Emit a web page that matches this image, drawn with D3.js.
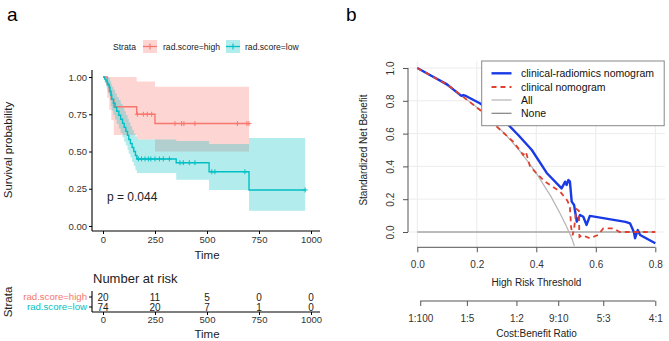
<!DOCTYPE html>
<html><head><meta charset="utf-8">
<script src="https://cdnjs.cloudflare.com/ajax/libs/d3/7.8.5/d3.min.js"></script>
<style>body{margin:0;background:#fff}svg{display:block;font-family:"Liberation Sans",Arial,sans-serif}</style>
</head><body><svg id="c" width="669" height="341"></svg>
<script>
// ---------- Panel a: Kaplan-Meier ----------
const strataNames = ["rad.score=high", "rad.score=low"];
const kmHighT = [0, 20, 30, 40, 52, 162, 250];
const kmHighS = [1, 0.95, 0.90, 0.85, 0.80, 0.75, 0.6875];
const kmHighU = [1, 1, 1, 1, 1, 0.97, 0.935];
const kmHighL = [1, 0.86, 0.78, 0.71, 0.61, 0.58, 0.50];
const kmHighEnd = 702;
const kmHighCensor = [165, 194, 213, 234, 346, 378, 389, 442, 646, 692, 702];

const kmLowT = [0, 8, 14, 20, 25, 30, 34, 38, 42, 50, 58, 66, 76, 85, 94, 102, 110, 118, 124, 132, 140, 148, 156, 163, 352, 510, 702];
const kmLowS = [1, 0.986, 0.973, 0.959, 0.946, 0.932, 0.905, 0.878, 0.851, 0.824, 0.797, 0.770, 0.743, 0.716, 0.689, 0.662, 0.635, 0.608, 0.581, 0.554, 0.527, 0.500, 0.473, 0.450, 0.425, 0.364, 0.242];
const kmLowU = [1, 1, 1, 1, 1, 0.99, 0.975, 0.955, 0.935, 0.915, 0.89, 0.865, 0.845, 0.82, 0.795, 0.77, 0.745, 0.72, 0.695, 0.67, 0.645, 0.62, 0.60, 0.58, 0.57, 0.55, 0.59];
const kmLowL = [1, 0.96, 0.935, 0.915, 0.895, 0.875, 0.84, 0.805, 0.775, 0.745, 0.715, 0.685, 0.655, 0.625, 0.595, 0.565, 0.54, 0.51, 0.485, 0.46, 0.43, 0.405, 0.375, 0.355, 0.31, 0.242, 0.103];
const kmLowEnd = 972;
const kmLowCensor = [170, 185, 202, 218, 230, 250, 271, 290, 319, 370, 386, 415, 442, 523, 538, 682, 972];

const kmTicksX = [0, 250, 500, 750, 1000];
const kmTicksY = [0, 0.25, 0.5, 0.75, 1];
const riskHigh = [20, 11, 5, 0, 0];
const riskLow = [74, 20, 7, 1, 0];
const pText = "p = 0.044";

// ---------- Panel b: decision curves ----------
const dcaNames = ["clinical-radiomics nomogram", "clinical nomogram", "All", "None"];
const blueT = [0, 0.05, 0.10, 0.148, 0.155, 0.165, 0.21, 0.26, 0.30, 0.34, 0.385, 0.435, 0.485, 0.497, 0.502, 0.508, 0.513, 0.519, 0.527, 0.536, 0.547, 0.558, 0.569, 0.58, 0.70, 0.715, 0.728, 0.732, 0.741, 0.749, 0.80];
const blueNB = [1.0, 0.95, 0.90, 0.83, 0.835, 0.828, 0.785, 0.725, 0.665, 0.59, 0.50, 0.36, 0.266, 0.307, 0.287, 0.317, 0.307, 0.185, 0.165, 0.063, 0.104, 0.093, 0.043, 0.098, 0.062, 0.053, 0.0, -0.038, 0.012, -0.018, -0.069];
const redT = [0, 0.10, 0.15, 0.211, 0.267, 0.323, 0.356, 0.365, 0.379, 0.429, 0.48, 0.505, 0.513, 0.517, 0.522, 0.527, 0.535, 0.543, 0.545, 0.555, 0.58, 0.608, 0.625, 0.659, 0.68, 0.80];
const redNB = [1.0, 0.90, 0.83, 0.744, 0.642, 0.55, 0.47, 0.49, 0.398, 0.307, 0.246, 0.19, 0.15, 0.03, -0.02, 0.02, 0.14, 0.13, -0.03, -0.02, -0.038, -0.018, 0.022, 0.022, 0.0, 0.0];
const allT = [0, 0.05, 0.1, 0.15, 0.2, 0.25, 0.3, 0.35, 0.4, 0.45, 0.48, 0.5, 0.51, 0.52, 0.528];
const allNB = [1, 0.949, 0.893, 0.830, 0.760, 0.680, 0.588, 0.483, 0.359, 0.214, 0.113, 0.039, 0, -0.041, -0.085];
const noneT = [0, 0.8];
const noneNB = [0, 0];
const dcaTicksX = [0, 0.2, 0.4, 0.6, 0.8];
const dcaTicksY = [0, 0.2, 0.4, 0.6, 0.8, 1.0];
const cbLabels = ["1:100", "1:5", "1:2", "9:10", "5:3", "4:1"];
const cbThresh = [1/101, 1/6, 1/3, 9/19, 5/8, 4/5];

const svg = d3.select("#c");
const RED = "#F8766D", TEAL = "#00BFC4";

// ===== Panel a =====
const x = d3.scaleLinear().domain([0, 1000]).range([103, 311]);
const y = d3.scaleLinear().domain([0, 1]).range([226, 77]);
svg.append("text").attr("x", 7).attr("y", 21).attr("font-size", 19).text("a");

// legend
const lg = svg.append("g").attr("font-size", 8.6).attr("fill", "#222");
lg.append("text").attr("x", 113).attr("y", 50).text("Strata");
[[143, RED, strataNames[0], 163], [226, TEAL, strataNames[1], 245]].forEach(([kx, c, t, tx]) => {
  lg.append("rect").attr("x", kx).attr("y", 40).attr("width", 14).attr("height", 13).attr("fill", c).attr("fill-opacity", 0.3);
  lg.append("line").attr("x1", kx).attr("x2", kx + 14).attr("y1", 46.5).attr("y2", 46.5).attr("stroke", c).attr("stroke-width", 1.3);
  lg.append("line").attr("x1", kx + 7).attr("x2", kx + 7).attr("y1", 43.5).attr("y2", 49.5).attr("stroke", c).attr("stroke-width", 1.1);
  lg.append("text").attr("x", tx).attr("y", 50).text(t);
});

function stepData(T, V, end) { const d = T.map((t, i) => [t, V[i]]); d.push([end, V[V.length - 1]]); return d; }
function bandData(T, U, L, end) { const d = T.map((t, i) => [t, U[i], L[i]]); d.push([end, U[U.length - 1], L[L.length - 1]]); return d; }
const area = d3.area().x(d => x(d[0])).y0(d => y(d[2])).y1(d => y(d[1])).curve(d3.curveStepAfter);
const line = d3.line().x(d => x(d[0])).y(d => y(d[1])).curve(d3.curveStepAfter);

const groups = [
  {T: kmHighT, S: kmHighS, U: kmHighU, L: kmHighL, end: kmHighEnd, cens: kmHighCensor, c: RED},
  {T: kmLowT, S: kmLowS, U: kmLowU, L: kmLowL, end: kmLowEnd, cens: kmLowCensor, c: TEAL}
];
groups.forEach(g => {
  svg.append("path").attr("d", area(bandData(g.T, g.U, g.L, g.end))).attr("fill", g.c).attr("fill-opacity", 0.3);
});
groups.forEach(g => {
  svg.append("path").attr("d", line(stepData(g.T, g.S, g.end))).attr("fill", "none").attr("stroke", g.c).attr("stroke-width", 1.4);
  g.cens.forEach(t => {
    const i = d3.bisectRight(g.T, t) - 1;
    const cx = x(t), cy = y(g.S[i]);
    svg.append("path").attr("d", `M${cx - 2.5},${cy}H${cx + 2.5}M${cx},${cy - 2.5}V${cy + 2.5}`).attr("stroke", g.c).attr("stroke-width", 1);
  });
});

const plain = d => String(d);
// axes
const axL = svg.append("g").attr("transform", "translate(92,0)").call(d3.axisLeft(y).tickValues(kmTicksY).tickFormat(d3.format(".2f")).tickSize(3).tickPadding(2));
axL.select(".domain").remove();
axL.append("line").attr("x1", 0).attr("x2", 0).attr("y1", 70).attr("y2", 231).attr("stroke", "#000").attr("stroke-width", 1.1);
axL.selectAll("text").attr("font-size", 9.5).attr("fill", "#333").attr("font-family", "Liberation Sans, Arial");
const axB = svg.append("g").attr("transform", "translate(0,231)").call(d3.axisBottom(x).tickValues(kmTicksX).tickFormat(plain).tickSize(3).tickPadding(2));
axB.select(".domain").remove();
axB.append("line").attr("x1", 92).attr("x2", 320).attr("stroke", "#000").attr("stroke-width", 1.1);
axB.selectAll("text").attr("font-size", 9.5).attr("fill", "#333").attr("font-family", "Liberation Sans, Arial");
svg.append("text").attr("x", 207).attr("y", 259).attr("text-anchor", "middle").attr("font-size", 11.5).attr("fill", "#222").text("Time");
svg.append("text").attr("transform", "translate(12,150) rotate(-90)").attr("text-anchor", "middle").attr("font-size", 11.5).attr("fill", "#222").text("Survival probability");
svg.append("text").attr("x", 107).attr("y", 201).attr("font-size", 12).attr("fill", "#222").text(pText);

// risk table
svg.append("text").attr("x", 93).attr("y", 283).attr("font-size", 13).attr("fill", "#222").text("Number at risk");
const ry = [297, 307];
[riskHigh, riskLow].forEach((row, r) => {
  row.forEach((v, i) => svg.append("text").attr("x", x(kmTicksX[i])).attr("y", ry[r]).attr("dy", "0.35em").attr("text-anchor", "middle").attr("font-size", 10).attr("fill", "#222").text(v));
  svg.append("text").attr("x", 87).attr("y", ry[r]).attr("dy", "0.35em").attr("text-anchor", "end").attr("font-size", 9.6).attr("fill", r === 0 ? RED : TEAL).text(strataNames[r]);
  svg.append("line").attr("x1", 89).attr("x2", 92).attr("y1", ry[r]).attr("y2", ry[r]).attr("stroke", "#000");
});
svg.append("line").attr("x1", 92).attr("x2", 92).attr("y1", 291).attr("y2", 312).attr("stroke", "#000").attr("stroke-width", 1.1);
const axR = svg.append("g").attr("transform", "translate(0,312)").call(d3.axisBottom(x).tickValues(kmTicksX).tickFormat(plain).tickSize(3).tickPadding(1));
axR.select(".domain").remove();
axR.append("line").attr("x1", 92).attr("x2", 320).attr("stroke", "#000").attr("stroke-width", 1.1);
axR.selectAll("text").attr("font-size", 9.5).attr("fill", "#333").attr("font-family", "Liberation Sans, Arial");
svg.append("text").attr("x", 207).attr("y", 338).attr("text-anchor", "middle").attr("font-size", 11.5).attr("fill", "#222").text("Time");
svg.append("text").attr("transform", "translate(12,302) rotate(-90)").attr("text-anchor", "middle").attr("font-size", 11.5).attr("fill", "#222").text("Strata");

// ===== Panel b =====
const bx = d3.scaleLinear().domain([0, 0.8]).range([417.3, 655.3]);
const by = d3.scaleLinear().domain([0, 1]).range([232, 68]);
const PL = bx(-0.032), PR = bx(0.832), PT = by(1.042), PB = by(-0.092);
svg.append("text").attr("x", 346).attr("y", 21).attr("font-size", 19).text("b");
const grid = svg.append("g").attr("stroke", "#ececec").attr("stroke-width", 1);
dcaTicksX.forEach(t => grid.append("line").attr("x1", bx(t)).attr("x2", bx(t)).attr("y1", PT).attr("y2", PB));
dcaTicksY.forEach(t => grid.append("line").attr("x1", PL).attr("x2", PR).attr("y1", by(t)).attr("y2", by(t)));

svg.append("clipPath").attr("id", "pc").append("rect").attr("x", PL).attr("y", PT).attr("width", PR - PL).attr("height", PB - PT);
const bl = d3.line().x(d => bx(d[0])).y(d => by(d[1]));
const pts = (T, V) => T.map((t, i) => [t, V[i]]);
const cg = svg.append("g").attr("clip-path", "url(#pc)");
cg.append("path").attr("d", bl(pts(noneT, noneNB))).attr("fill", "none").attr("stroke", "#808080").attr("stroke-width", 1.2);
cg.append("path").attr("d", bl(pts(allT, allNB))).attr("fill", "none").attr("stroke", "#b4b4b4").attr("stroke-width", 1.2);
cg.append("path").attr("d", bl(pts(blueT, blueNB))).attr("fill", "none").attr("stroke", "#1a3ae6").attr("stroke-width", 2.4).attr("stroke-linejoin", "round");
cg.append("path").attr("d", bl(pts(redT, redNB))).attr("fill", "none").attr("stroke", "#e0402e").attr("stroke-width", 1.8).attr("stroke-dasharray", "5,4");

// legend box
const L = svg.append("g");
L.append("rect").attr("x", 481.7).attr("y", 61).attr("width", 182.5).attr("height", 64.7).attr("fill", "#fff").attr("stroke", "#888").attr("stroke-width", 1);
const lstyles = [["#1a3ae6", 2.4, null], ["#e0402e", 1.8, "5,4"], ["#b4b4b4", 1.2, null], ["#808080", 1.2, null]];
const lyy = [73.3, 87, 100, 113.3];
dcaNames.forEach((n, i) => {
  const ln = L.append("line").attr("x1", 491.5).attr("x2", 511.5).attr("y1", lyy[i]).attr("y2", lyy[i]).attr("stroke", lstyles[i][0]).attr("stroke-width", lstyles[i][1]);
  if (lstyles[i][2]) ln.attr("stroke-dasharray", lstyles[i][2]);
  L.append("text").attr("x", 521).attr("y", lyy[i]).attr("dy", "0.35em").attr("font-size", 10.5).attr("fill", "#111").text(n);
});

// axes (base R style)
const ay = svg.append("g").attr("transform", "translate(408,0)").call(d3.axisLeft(by).tickValues(dcaTicksY).tickFormat(d3.format(".1f")).tickSize(5).tickPadding(0));
ay.select(".domain").remove();
ay.append("line").attr("y1", by(0)).attr("y2", by(1)).attr("stroke", "#555");
ay.selectAll(".tick line").attr("stroke", "#555");
ay.selectAll(".tick text").attr("font-size", 10).attr("fill", "#333").attr("font-family", "Liberation Sans, Arial")
  .attr("transform", "rotate(-90)").attr("x", 0).attr("y", -14).attr("dy", "0").attr("text-anchor", "middle");
svg.append("text").attr("transform", "translate(367,150) rotate(-90)").attr("text-anchor", "middle").attr("font-size", 10).attr("fill", "#222").text("Standardized Net Benefit");

const ax1 = svg.append("g").attr("transform", "translate(0,247.3)").call(d3.axisBottom(bx).tickValues(dcaTicksX).tickFormat(d3.format(".1f")).tickSize(5).tickPadding(9));
ax1.select(".domain").remove();
ax1.append("line").attr("x1", bx(0)).attr("x2", bx(0.8)).attr("stroke", "#555");
ax1.selectAll(".tick line").attr("stroke", "#555");
ax1.selectAll(".tick text").attr("font-size", 10).attr("fill", "#333").attr("font-family", "Liberation Sans, Arial");
svg.append("text").attr("x", 536.5).attr("y", 286).attr("text-anchor", "middle").attr("font-size", 10).attr("fill", "#222").text("High Risk Threshold");

const ax2 = svg.append("g").attr("transform", "translate(0,301)").call(d3.axisBottom(bx).tickValues(cbThresh).tickFormat((d, i) => cbLabels[i]).tickSize(5).tickPadding(9));
ax2.select(".domain").remove();
ax2.append("line").attr("x1", bx(cbThresh[0])).attr("x2", bx(0.8)).attr("stroke", "#555");
ax2.selectAll(".tick line").attr("stroke", "#555");
ax2.selectAll(".tick text").attr("font-size", 10).attr("fill", "#333").attr("font-family", "Liberation Sans, Arial");
svg.append("text").attr("x", 536.5).attr("y", 337).attr("text-anchor", "middle").attr("font-size", 10).attr("fill", "#222").text("Cost:Benefit Ratio");
</script></body></html>
